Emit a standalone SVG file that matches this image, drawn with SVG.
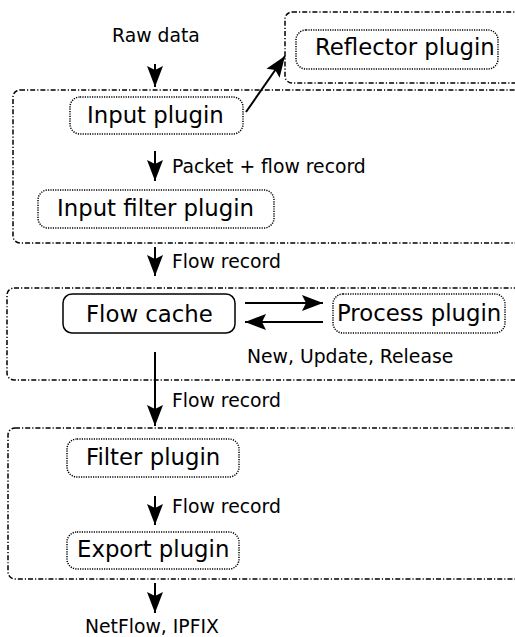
<svg xmlns="http://www.w3.org/2000/svg" width="515" height="637" viewBox="0 0 515 637">
<defs>
<style>
.grp{fill:none;stroke:#000;stroke-width:1.5;stroke-dasharray:5,2,1.2,2}
.plug{fill:none;stroke:#000;stroke-width:1.5;stroke-dasharray:1.2,1.2}
.solid{fill:none;stroke:#000;stroke-width:1.5}
.edge{fill:none;stroke:#000;stroke-width:2}
.nl{font-family:"DejaVu Sans",sans-serif;font-size:22.8px;fill:#000}
.el{font-family:"DejaVu Sans",sans-serif;font-size:18.8px;fill:#000}
</style>
<marker id="ah" markerUnits="userSpaceOnUse" markerWidth="26" markerHeight="20" viewBox="-24 -10 26 20" refX="0" refY="0" orient="auto">
<path d="M0,0 L-21,-8 L-17,0 L-21,8 Z" fill="#000"/>
</marker>
</defs>
<rect width="515" height="637" fill="#fff"/>
<g id="groups">
<rect id="grp-reflector" class="grp" x="285" y="12" width="250" height="71" rx="7"/>
<rect id="grp-input" class="grp" x="13" y="90" width="520" height="153" rx="7"/>
<rect id="grp-cache" class="grp" x="7" y="288" width="526" height="92" rx="7"/>
<rect id="grp-output" class="grp" x="8" y="428" width="525" height="151" rx="7"/>
</g>
<g id="reflector">
<rect class="plug" x="296" y="30" width="202" height="39" rx="10"/>
<text class="nl" x="315" y="55">Reflector plugin</text>
</g>
<g id="input">
<rect class="plug" x="70" y="97" width="173" height="37" rx="10"/>
<text class="nl" x="87" y="123">Input plugin</text>
</g>
<g id="inputfilter">
<rect class="plug" x="38" y="190" width="236" height="38" rx="10"/>
<text class="nl" x="57" y="216">Input filter plugin</text>
</g>
<g id="flowcache">
<rect class="solid" x="63" y="294" width="172" height="39" rx="9"/>
<text class="nl" x="86" y="322">Flow cache</text>
</g>
<g id="process">
<rect class="plug" x="333" y="294" width="172" height="39" rx="10"/>
<text class="nl" x="337" y="321">Process plugin</text>
</g>
<g id="filter">
<rect class="plug" x="67" y="439" width="172" height="38" rx="10"/>
<text class="nl" x="86" y="465">Filter plugin</text>
</g>
<g id="export">
<rect class="plug" x="67" y="532" width="172" height="37" rx="10"/>
<text class="nl" x="77" y="557">Export plugin</text>
</g>
<g id="connectors">
<line class="edge" x1="155" y1="64" x2="155" y2="87" marker-end="url(#ah)"/>
<line class="edge" x1="246" y1="112" x2="285" y2="56" marker-end="url(#ah)"/>
<line class="edge" x1="155" y1="151" x2="155" y2="181" marker-end="url(#ah)"/>
<line class="edge" x1="155" y1="247" x2="155" y2="276" marker-end="url(#ah)"/>
<line class="edge" x1="245" y1="303" x2="323" y2="303" marker-end="url(#ah)"/>
<line class="edge" x1="323" y1="322" x2="245" y2="322" marker-end="url(#ah)"/>
<line class="edge" x1="155" y1="352" x2="155" y2="426" marker-end="url(#ah)"/>
<line class="edge" x1="155" y1="496" x2="155" y2="525" marker-end="url(#ah)"/>
<line class="edge" x1="155" y1="583" x2="155" y2="613" marker-end="url(#ah)"/>
</g>
<g id="labels">
<text class="el" x="112" y="42">Raw data</text>
<text class="el" x="172" y="173">Packet + flow record</text>
<text class="el" x="172" y="268">Flow record</text>
<text class="el" x="247" y="363">New, Update, Release</text>
<text class="el" x="172" y="407">Flow record</text>
<text class="el" x="172" y="513">Flow record</text>
<text class="el" x="85" y="633">NetFlow, IPFIX</text>
</g>
</svg>
